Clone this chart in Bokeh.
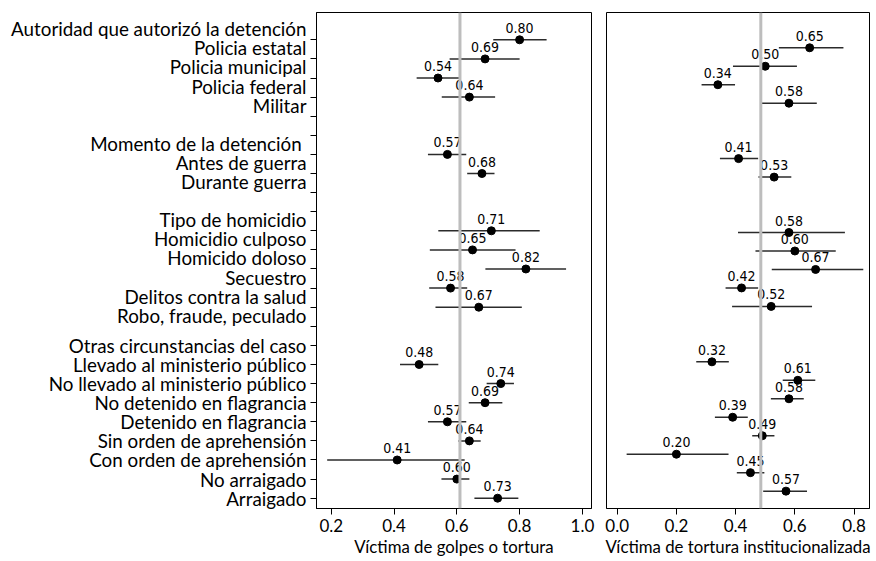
from bokeh.plotting import figure
from bokeh.layouts import row
from bokeh.models import Range1d, FixedTicker, Span, ColumnDataSource
from bokeh.embed import file_html
from bokeh.resources import INLINE
from bokeh.core.properties import value

# ---------------- data ----------------
category_labels = [
    "Autoridad que autorizó la detención", "Policia estatal", "Policia municipal",
    "Policia federal", "Militar",
    "Momento de  la detención", "Antes de guerra", "Durante guerra",
    "Tipo de homicidio", "Homicidio culposo", "Homicido doloso", "Secuestro",
    "Delitos contra la salud", "Robo, fraude, peculado",
    "Otras circunstancias del caso", "Llevado al ministerio público",
    "No llevado al ministerio público", "No detenido en flagrancia",
    "Detenido en flagrancia", "Sin orden de aprehensión",
    "Con orden de aprehensión", "No arraigado", "Arraigado",
]
# row index (from top) of every category label
label_rows = [0, 1, 2, 3, 4, 6, 7, 8, 10, 11, 12, 13, 14, 15,
              17, 18, 19, 20, 21, 22, 23, 24, 25]
# rows that carry an estimate
point_rows = [1, 2, 3, 4, 7, 8, 11, 12, 13, 14, 15,
              18, 19, 20, 21, 22, 23, 24, 25]
tick_rows = list(range(1, 26))

golpes_est = [0.80, 0.69, 0.54, 0.64, 0.57, 0.68, 0.71, 0.65, 0.82, 0.58, 0.67,
              0.48, 0.74, 0.69, 0.57, 0.64, 0.41, 0.60, 0.73]
golpes_lo = [0.716, 0.577, 0.472, 0.552, 0.508, 0.633, 0.541, 0.514, 0.691, 0.512, 0.532,
             0.419, 0.695, 0.638, 0.508, 0.605, 0.187, 0.551, 0.656]
golpes_hi = [0.886, 0.800, 0.612, 0.722, 0.630, 0.720, 0.864, 0.787, 0.948, 0.633, 0.807,
             0.541, 0.782, 0.745, 0.630, 0.676, 0.625, 0.640, 0.796]
golpes_mean = 0.61

tortura_est = [0.65, 0.50, 0.34, 0.58, 0.41, 0.53, 0.58, 0.60, 0.67, 0.42, 0.52,
               0.32, 0.61, 0.58, 0.39, 0.49, 0.20, 0.45, 0.57]
tortura_lo = [0.546, 0.391, 0.285, 0.489, 0.347, 0.477, 0.408, 0.467, 0.522, 0.366, 0.388,
              0.267, 0.559, 0.519, 0.330, 0.456, 0.032, 0.404, 0.493]
tortura_hi = [0.764, 0.607, 0.398, 0.674, 0.476, 0.588, 0.769, 0.738, 0.831, 0.476, 0.658,
              0.377, 0.669, 0.630, 0.441, 0.531, 0.376, 0.497, 0.641]
tortura_mean = 0.485

left_ticks = [0.2, 0.4, 0.6, 0.8, 1.0]
right_ticks = [0.0, 0.2, 0.4, 0.6, 0.8]
left_title = "Víctima de golpes o tortura"
right_title = "Víctima de tortura institucionalizada"

# ---------------- style ----------------
FONT = "Lato"
NUMFONT = "DejaVu Sans Condensed"
TOP = 12
FRAME_H = 496
H = 560
BOTTOM = H - TOP - FRAME_H


def make_panel(est, lo, hi, mean, ticks, title, xr, yr, width, bl, br):
    p = figure(width=width, height=H, x_range=xr, y_range=yr,
               output_backend="svg", toolbar_location=None,
               min_border_left=bl, min_border_right=br,
               min_border_top=TOP, min_border_bottom=BOTTOM)
    p.xgrid.visible = False
    p.ygrid.visible = False
    p.outline_line_color = "black"
    p.outline_line_width = 1

    p.add_layout(Span(location=mean, dimension="height", line_color="#bdbdbd",
                      line_width=3))
    src = ColumnDataSource(dict(
        est=est, lo=lo, hi=hi, y=point_rows,
        lab=["%.2f" % v for v in est]))
    p.segment(x0="lo", y0="y", x1="hi", y1="y", source=src,
              line_color="#2b2b2b", line_width=1.5)
    p.scatter(x="est", y="y", source=src, size=8, color="black")
    p.text(x="est", y="y", text="lab", source=src, text_align="center",
           text_baseline="middle", y_offset=-12,
           text_font=value(NUMFONT), text_font_size="14px", text_color="black")

    xa = p.xaxis[0]
    xa.ticker = FixedTicker(ticks=ticks)
    xa.major_label_overrides = {t: "%.1f" % t for t in ticks}
    xa.minor_tick_line_color = None
    xa.major_tick_out = 6
    xa.major_tick_in = 0
    xa.major_label_standoff = 4
    xa.major_label_text_font = FONT
    xa.major_label_text_font_size = "17px"
    xa.major_label_text_color = "black"
    xa.axis_line_color = "black"
    xa.major_tick_line_color = "black"
    xa.axis_label = title
    xa.axis_label_text_font = FONT
    xa.axis_label_text_font_size = "16.8px"
    xa.axis_label_text_font_style = "normal"
    xa.axis_label_text_color = "black"
    xa.axis_label_standoff = 1
    return p


# left panel
left = make_panel(golpes_est, golpes_lo, golpes_hi, golpes_mean, left_ticks, left_title,
                  Range1d(0.153, 1.029), Range1d(25.54, -0.43),
                  width=598, bl=316, br=7)
shift = [0.42 if r < 16 else 0.0 for r in label_rows]
label_pos = [r + s for r, s in zip(label_rows, shift)]
ya = left.yaxis[0]
ya.ticker = FixedTicker(ticks=label_pos, minor_ticks=tick_rows)
ya.major_label_overrides = {p_: t for p_, t in zip(label_pos, category_labels)}
ya.major_tick_out = 0
ya.major_tick_in = 0
ya.major_tick_line_color = None
ya.minor_tick_out = 6
ya.minor_tick_in = 0
ya.minor_tick_line_color = "black"
ya.axis_line_color = "black"
ya.major_label_standoff = 4
ya.major_label_text_font = FONT
ya.major_label_text_font_size = "18.8px"
ya.major_label_text_color = "black"

# right panel
right = make_panel(tortura_est, tortura_lo, tortura_hi, tortura_mean, right_ticks, right_title,
                   Range1d(-0.036, 0.852), Range1d(25.94, -0.91),
                   width=277, bl=8, br=6)
right.yaxis.visible = False

layout = row(left, right)
open("out.html", "w").write(file_html(layout, INLINE))
